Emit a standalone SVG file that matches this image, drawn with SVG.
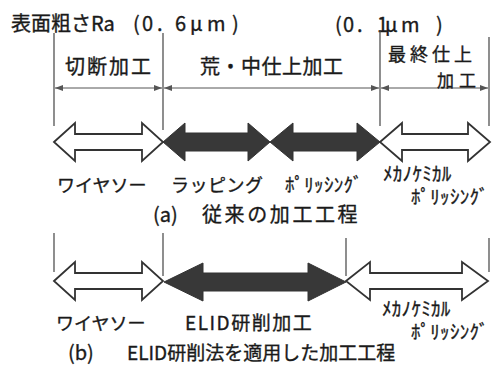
<svg xmlns="http://www.w3.org/2000/svg" width="494" height="378" viewBox="0 0 494 378">
<defs>
<style>
text{font-family:"Noto Sans CJK JP","Noto Sans",sans-serif;fill:#1a1a1a;stroke:#1a1a1a;stroke-width:0.35}
.t20{font-size:20px}
.t19{font-size:19px}
.t18{font-size:18px}
.hk{font-size:19px;letter-spacing:0.3px}
.vl{stroke:#444;stroke-width:1.2;fill:none}
.dim{stroke:#555;stroke-width:1;fill:none}
.wa{fill:#fff;stroke:#333;stroke-width:1.8;stroke-linejoin:miter}
.da{fill:#383838;stroke:#333;stroke-width:1}
</style>
<marker id="ah" viewBox="0 0 8 6" refX="8" refY="3" markerWidth="8" markerHeight="6" orient="auto-start-reverse" markerUnits="userSpaceOnUse">
<path d="M0,0 L8,3 L0,6 Z" fill="#555"/>
</marker>
</defs>
<rect width="494" height="378" fill="#fff"/>

<g id="title">
<text class="t20" y="31"><tspan x="11">表面粗さRa</tspan><tspan x="133 142 157 175 190 207 232">(0.6μm)</tspan></text>
<text class="t20" y="32"><tspan x="335 343 357 377 385 401 436">(0.1μm)</tspan></text>
</g>

<g id="connectors">
<line class="vl" x1="54" y1="33" x2="54" y2="126"/>
<line class="vl" x1="163" y1="33" x2="163" y2="130"/>
<line class="vl" x1="380" y1="30" x2="380" y2="126"/>
<line class="vl" x1="489" y1="37" x2="489" y2="126"/>
<line class="dim" x1="55" y1="88" x2="162" y2="88" marker-start="url(#ah)" marker-end="url(#ah)"/>
<line class="dim" x1="164" y1="88" x2="379" y2="88" marker-start="url(#ah)" marker-end="url(#ah)"/>
<line class="dim" x1="381" y1="88" x2="488" y2="88" marker-start="url(#ah)" marker-end="url(#ah)"/>
<line class="vl" x1="54" y1="233" x2="54" y2="272"/>
<line class="vl" x1="163" y1="233" x2="163" y2="276"/>
<line class="vl" x1="346" y1="238" x2="346" y2="276"/>
<line class="vl" x1="489" y1="238" x2="489" y2="272"/>
</g>

<g id="stage-labels">
<text class="t20" x="65" y="74" letter-spacing="2">切断加工</text>
<text class="t20" x="200" y="74" letter-spacing="0.5">荒・中仕上加工</text>
<text class="t18" x="388" y="61" letter-spacing="4">最終仕上</text>
<text style="font-size:17px" x="437" y="87" letter-spacing="5">加工</text>
</g>

<g id="row-a">
<g id="a-wiresaw">
<polygon class="wa" points="54,142 75,123 75,134 142,134 142,123 163,142 142,161 142,150 75,150 75,161"/>
<text class="t18" x="57" y="192">ワイヤソー</text>
</g>
<g id="a-lapping">
<polygon class="da" points="163,142 185,123 185,133 248,133 248,123 270,142 248,161 248,151 185,151 185,161"/>
<text class="t18" x="171" y="192" letter-spacing="0.5">ラッピング</text>
</g>
<g id="a-polishing">
<polygon class="da" points="270,142 293,123 293,133 357,133 357,123 380,142 357,161 357,151 293,151 293,161"/>
<text class="hk" x="285" y="192">ﾎﾟﾘｯｼﾝｸﾞ</text>
</g>
<g id="a-cmp">
<polygon class="wa" points="380,142 402,123 402,134 468,134 468,123 490,142 468,161 468,150 402,150 402,161"/>
<text class="hk" x="383" y="181">ﾒｶﾉｹﾐｶﾙ</text>
<text class="hk" x="411" y="204">ﾎﾟﾘｯｼﾝｸﾞ</text>
</g>
<text class="t20" y="222"><tspan x="153">(a)</tspan><tspan x="202" letter-spacing="2.6">従来の加工工程</tspan></text>
</g>

<g id="row-b">
<g id="b-wiresaw">
<polygon class="wa" points="54,281 75,262 75,273 142,273 142,262 163,281 142,300 142,289 75,289 75,300"/>
<text class="t18" x="56" y="330">ワイヤソー</text>
</g>
<g id="b-elid">
<polygon class="da" points="164,282 203,263 203,273 308,273 308,263 346,282 308,301 308,291 203,291 203,301"/>
<text class="t19" x="185" y="330" letter-spacing="1.5">ELID研削加工</text>
</g>
<g id="b-cmp">
<polygon class="wa" points="346,281 370,262 370,273 462,273 462,262 488,281 462,300 462,289 370,289 370,300"/>
<text class="hk" x="382" y="316">ﾒｶﾉｹﾐｶﾙ</text>
<text class="hk" x="411" y="339">ﾎﾟﾘｯｼﾝｸﾞ</text>
</g>
<text class="t20" y="360"><tspan x="68">(b)</tspan><tspan x="127" style="font-size:19px">ELID研削法を適用した加工工程</tspan></text>
</g>
</svg>
